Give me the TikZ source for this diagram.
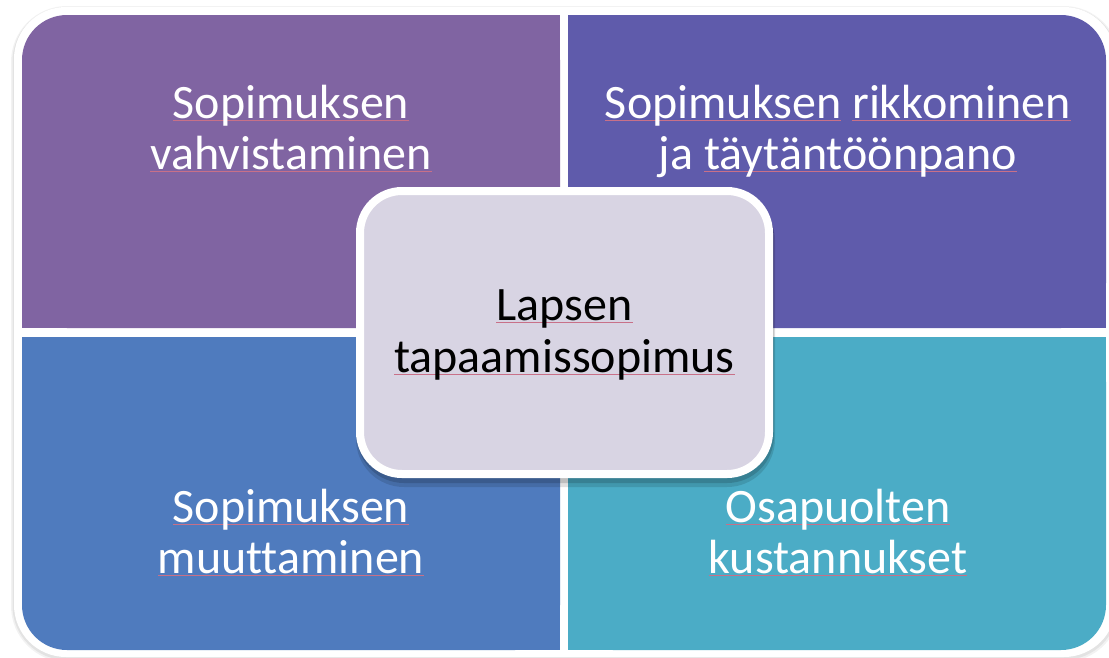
\documentclass[tikz,border=0pt]{standalone}
\usepackage{fontspec}
\setmainfont{Carlito}[Ligatures={NoCommon}]
\definecolor{cTL}{HTML}{8064A2}
\definecolor{cTR}{HTML}{5F5BAB}
\definecolor{cBL}{HTML}{4F7BBE}
\definecolor{cBR}{HTML}{4BACC6}
\definecolor{cC}{HTML}{D8D4E3}
\definecolor{sq}{HTML}{C87088}
\newcommand\sqw[1]{\setbox0\hbox{#1}\rlap{\textcolor{sq}{\rule[-2.2pt]{\wd0}{0.5pt}}}\box0\relax}
\tikzset{
  qtext/.style={text=white, font=\fontsize{48}{52}\selectfont, anchor=base, inner sep=0pt},
  ctext/.style={text=black, font=\fontsize{48}{52}\selectfont, anchor=base, inner sep=0pt},
  quad/.style={rounded corners=45pt}
}
\begin{document}
\begin{tikzpicture}[x=1pt,y=-1pt]
\useasboundingbox (0,0) rectangle (1109,657);
\fill[white] (0,0) rectangle (1109,657);
% outer frame shadow
\fill[black, opacity=0.05, rounded corners=56pt] (11,6) rectangle (1120,662);
\fill[black, opacity=0.06, rounded corners=54pt] (12.5,7) rectangle (1118,660);
% outer white frame
\fill[white, rounded corners=52pt] (14,7) rectangle (1116,657);
% quadrants
\fill[cTL, quad] (22,15) rectangle (560,328);
\fill[cTL] (100,15) rectangle (560,328);
\fill[cTL] (22,100) rectangle (560,328);
\fill[cTR, quad] (568,15) rectangle (1106,328);
\fill[cTR] (568,15) rectangle (1000,328);
\fill[cTR] (568,100) rectangle (1106,328);
\fill[cBL, quad] (22,337) rectangle (560,650);
\fill[cBL] (100,337) rectangle (560,650);
\fill[cBL] (22,337) rectangle (560,560);
\fill[cBR, quad] (568,337) rectangle (1106,650);
\fill[cBR] (568,337) rectangle (1000,650);
\fill[cBR] (568,337) rectangle (1106,560);
% center shadow
\fill[black, opacity=0.12, rounded corners=48pt] (356,192) rectangle (775,487);
\fill[black, opacity=0.15, rounded corners=47pt] (357,190) rectangle (774,483);
% center box
\node[draw=white, line width=8pt, fill=cC, rounded corners=42pt,
      minimum width=409pt, minimum height=283pt, inner sep=0pt] (center) at (564.5,332.5) {};
% texts
\node[qtext] (tl1) at (291,118) {\sqw{Sopimuksen}};
\node[qtext] (tl2) at (291,169) {\sqw{vahvistaminen}};
\node[qtext] (tr1) at (838,118) {\sqw{Sopimuksen} \sqw{rikkominen}};
\node[qtext] (tr2) at (838,169) {ja \sqw{täytäntöönpano}};
\node[qtext] (bl1) at (291,522) {\sqw{Sopimuksen}};
\node[qtext] (bl2) at (291,573) {\sqw{muuttaminen}};
\node[qtext] (br1) at (838,522) {\sqw{Osapuolten}};
\node[qtext] (br2) at (838,573) {\sqw{kustannukset}};
\node[ctext] (c1) at (564.5,320) {\sqw{Lapsen}};
\node[ctext] (c2) at (564.5,372) {\sqw{tapaamissopimus}};
\end{tikzpicture}
\end{document}
